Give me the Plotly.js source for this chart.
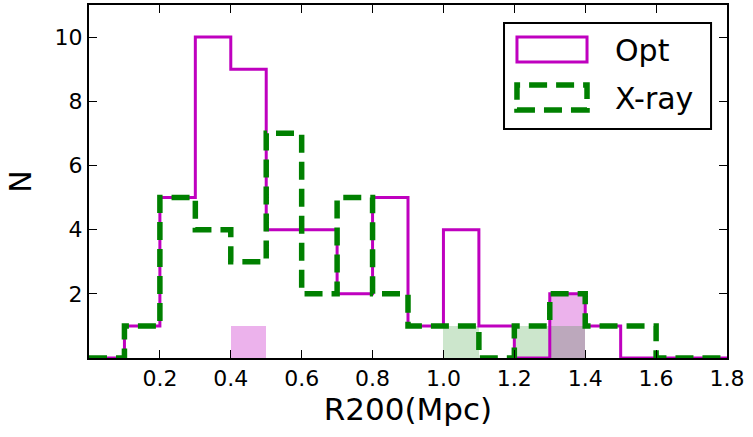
<!DOCTYPE html>
<html>
<head>
<meta charset="utf-8">
<script src="https://cdn.plot.ly/plotly-3.0.1.min.js"></script>
<style>
  html, body { margin: 0; padding: 0; background: #fff; }
  #chart { width: 753px; height: 437px; }
</style>
</head>
<body>
<div id="chart"></div>
<script>
// Histogram bin edges (Mpc)
const binEdges = [0.0, 0.1, 0.2, 0.3, 0.4, 0.5, 0.6, 0.7, 0.8, 0.9,
                  1.0, 1.1, 1.2, 1.3, 1.4, 1.5, 1.6, 1.7, 1.8];

// Counts per bin
const optCounts  = [0, 1, 5, 10, 9, 4, 4, 2, 5, 1, 4, 1, 0, 2, 1, 0, 0, 0];
const xrayCounts = [0, 1, 5, 4, 3, 7, 2, 5, 2, 1, 1, 0, 1, 2, 1, 1, 0, 0];

// Shaded sub-sample counts per bin
const optShaded  = [0, 0, 0, 0, 1, 0, 0, 0, 0, 0, 0, 0, 0, 2, 0, 0, 0, 0];
const xrayShaded = [0, 0, 0, 0, 0, 0, 0, 0, 0, 0, 1, 0, 1, 1, 0, 0, 0, 0];

const xTicks = [0.2, 0.4, 0.6, 0.8, 1.0, 1.2, 1.4, 1.6, 1.8];
const xTickText = ['0.2', '0.4', '0.6', '0.8', '1.0', '1.2', '1.4', '1.6', '1.8'];
const yTicks = [2, 4, 6, 8, 10];

const MAGENTA = '#bf00bf';
const GREEN = '#008000';
const FONT = 'DejaVu Sans, sans-serif';

// Step outline through the bin edges (line shape 'hv')
function stepXY(edges, counts) {
  const x = [edges[0]];
  const y = [0];
  for (let i = 0; i < counts.length; i++) { x.push(edges[i]); y.push(counts[i]); }
  x.push(edges[edges.length - 1]); y.push(0);
  return { x, y };
}

function barTrace(edges, counts, color) {
  const xs = [], ys = [];
  for (let i = 0; i < counts.length; i++) {
    if (counts[i] > 0) { xs.push((edges[i] + edges[i + 1]) / 2); ys.push(counts[i]); }
  }
  return {
    type: 'bar', x: xs, y: ys, width: 0.1,
    marker: { color: color, line: { width: 0 } },
    showlegend: false, hoverinfo: 'skip'
  };
}

const optStep = stepXY(binEdges, optCounts);
const xrayStep = stepXY(binEdges, xrayCounts);

const traces = [
  barTrace(binEdges, optShaded, 'rgba(191,0,191,0.3)'),
  barTrace(binEdges, xrayShaded, 'rgba(0,128,0,0.2)'),
  {
    type: 'scatter', mode: 'lines', name: 'Opt',
    x: optStep.x, y: optStep.y,
    line: { shape: 'hv', color: MAGENTA, width: 3 },
    showlegend: false
  },
  {
    type: 'scatter', mode: 'lines', name: 'X-ray',
    x: xrayStep.x, y: xrayStep.y,
    line: { shape: 'hv', color: GREEN, width: 5.5, dash: '18px,9px' },
    showlegend: false
  }
];

// Legend box drawn in paper coordinates
const shapes = [
  { type: 'rect', xref: 'paper', yref: 'paper', x0: 0.6505, x1: 0.975, y0: 0.6487, y1: 0.949,
    line: { color: 'black', width: 2 }, fillcolor: 'white', layer: 'above' },
  { type: 'rect', xref: 'paper', yref: 'paper', x0: 0.6708, x1: 0.7806, y0: 0.8385, y1: 0.9093,
    line: { color: MAGENTA, width: 3 }, fillcolor: 'rgba(0,0,0,0)', layer: 'above' },
  { type: 'rect', xref: 'paper', yref: 'paper', x0: 0.6708, x1: 0.7806, y0: 0.7025, y1: 0.7734,
    line: { color: GREEN, width: 5.5, dash: '18px,9px' }, fillcolor: 'rgba(0,0,0,0)', layer: 'above' }
];

const annotations = [
  { xref: 'paper', yref: 'paper', x: 0.8213, y: 0.8725, xanchor: 'left', yanchor: 'middle',
    text: 'Opt', showarrow: false, font: { family: FONT, size: 30, color: 'black' } },
  { xref: 'paper', yref: 'paper', x: 0.8213, y: 0.7365, xanchor: 'left', yanchor: 'middle',
    text: 'X-ray', showarrow: false, font: { family: FONT, size: 30, color: 'black' } }
];

const layout = {
  width: 753, height: 437,
  margin: { l: 89, r: 26, t: 5, b: 79 },
  paper_bgcolor: 'white', plot_bgcolor: 'white',
  barmode: 'overlay',
  bargap: 0,
  showlegend: false,
  font: { family: FONT, color: 'black' },
  xaxis: {
    range: [0, 1.8], tickvals: xTicks, ticktext: xTickText,
    ticks: 'inside', ticklen: 8, tickwidth: 1, tickcolor: 'black',
    showline: true, linecolor: 'black', linewidth: 2, mirror: 'ticks',
    showgrid: false, zeroline: false,
    tickfont: { family: FONT, size: 22, color: 'black' },
    title: { text: 'R200(Mpc)', font: { family: FONT, size: 31, color: 'black' }, standoff: 8 }
  },
  yaxis: {
    range: [0, 11], tickvals: yTicks,
    ticks: 'inside', ticklen: 8, tickwidth: 1, tickcolor: 'black',
    showline: true, linecolor: 'black', linewidth: 2, mirror: 'ticks',
    showgrid: false, zeroline: false,
    tickfont: { family: FONT, size: 22, color: 'black' },
    title: { text: 'N', font: { family: FONT, size: 30, color: 'black' }, standoff: 14 }
  },
  shapes: shapes,
  annotations: annotations
};

Plotly.newPlot('chart', traces, layout, { displayModeBar: false, staticPlot: true });
</script>
</body>
</html>
